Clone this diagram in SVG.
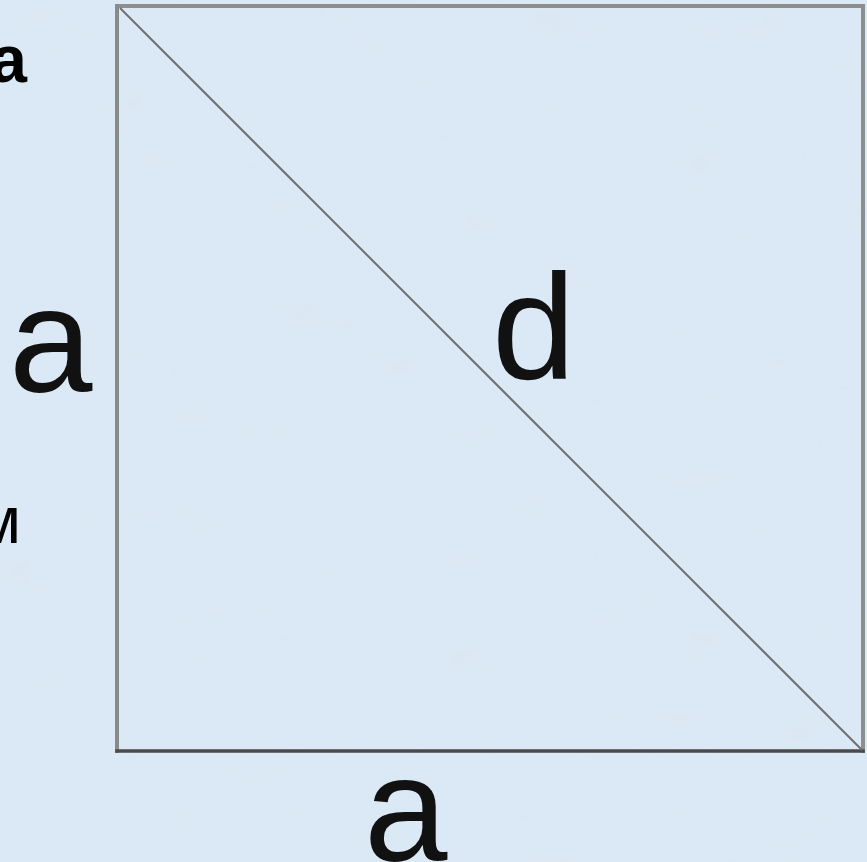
<svg xmlns="http://www.w3.org/2000/svg" width="867" height="862" viewBox="0 0 867 862">
<defs>
<style>
.big{font-family:"Liberation Sans",Arial,sans-serif;font-size:150px;fill:#111}
.side{font-family:"Liberation Sans",Arial,sans-serif;font-size:66px;fill:#000}
.edge{fill:none;stroke-linecap:square}
</style>
<filter id="tex" x="0" y="0" width="100%" height="100%">
<feTurbulence type="fractalNoise" baseFrequency="0.012 0.02" numOctaves="3" seed="4"/>
<feColorMatrix type="matrix" values="0 0 0 0 0.72  0 0 0 0 0.8  0 0 0 0 0.88  0 0 0 -2 1.05"/>
</filter>
</defs>
<rect width="867" height="862" fill="#dbe9f6"/>
<rect width="867" height="862" filter="url(#tex)" opacity="0.5"/>
<g id="labels">
<text class="side" x="27" y="82" text-anchor="end" font-weight="bold">а</text>
<text class="side" x="21" y="543" text-anchor="end">м</text>
</g>
<g id="square">
<line class="edge" x1="117" y1="6" x2="863" y2="6" stroke="#8e8e8e" stroke-width="4"/>
<line class="edge" x1="117" y1="6" x2="117" y2="751" stroke="#8a8a8a" stroke-width="4"/>
<line class="edge" x1="863" y1="6" x2="863" y2="751" stroke="#8e8e8e" stroke-width="4"/>
<line class="edge" x1="117" y1="751" x2="863" y2="751" stroke="#4a4a4a" stroke-width="3.5"/>
</g>
<g id="connectors">
<line x1="120" y1="8" x2="862" y2="750" stroke="#6e6e6e" stroke-width="2"/>
</g>
<g id="side-left"><text class="big" x="9" y="392">a</text></g>
<g id="diagonal-label"><text class="big" x="492" y="379">d</text></g>
<g id="side-bottom"><text class="big" x="364" y="861">a</text></g>
</svg>
